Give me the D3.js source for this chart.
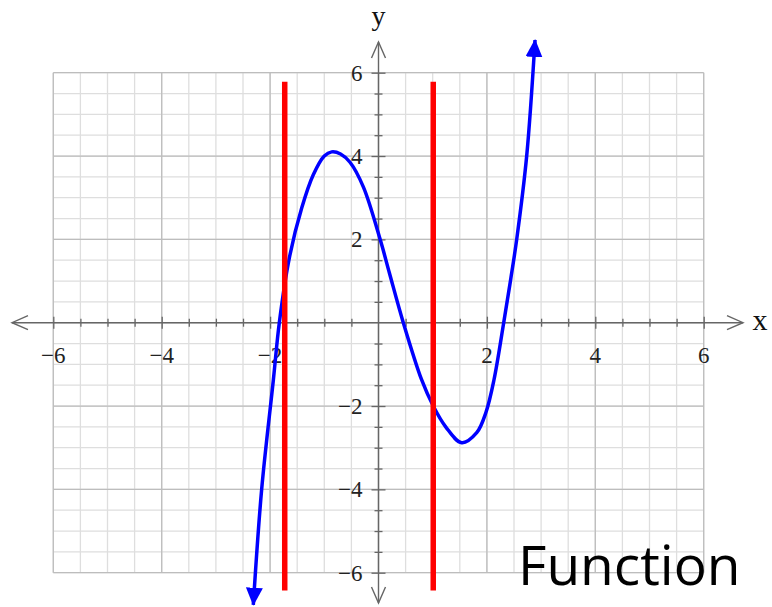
<!DOCTYPE html>
<html>
<head>
<meta charset="utf-8">
<script src="https://cdn.jsdelivr.net/npm/d3@7"></script>
<style>
  body { margin: 0; background: white; }
  svg { display: block; }
</style>
</head>
<body>
<div id="chart"></div>
<script>
// values
const curveX = [-2.31, -2.155, -1.94, -1.83, -1.646, -1.417, -1.203, -1.0, -0.864, -0.7, -0.526, -0.28, 0.03, 0.2, 0.458, 0.797, 1.01, 1.24, 1.535, 1.812, 1.983, 2.13, 2.31, 2.44, 2.55, 2.734, 2.888];
const curveY = [-6.77, -3.99, -1.375, 0, 1.55, 2.75, 3.55, 4.0, 4.1, 4.05, 3.85, 3.26, 2.0, 1.2, 0, -1.375, -2.0, -2.5, -2.88, -2.64, -2.15, -1.375, 0, 1.05, 2.0, 4.0, 6.785];
const redX = [-1.73, 1.01];
const redTop = 5.78;
const redBottom = -6.43;
const xTickLabels = [-6, -4, -2, 2, 4, 6];
const yTickLabels = [6, 4, 2, -2, -4, -6];

const wSvg = 772;
const hSvg = 607;

const x = d3.scaleLinear([-6, 6], [53.3, 703.7]);
const y = d3.scaleLinear([-6, 6], [572.7, 72.7]);

const minorSteps = d3.range(-6, 6.01, 0.5);
const majorSteps = d3.range(-6, 6.01, 2);

const svg = d3.select("#chart")
    .append("svg")
    .attr("width", wSvg)
    .attr("height", hSvg);

// grid
const grid = svg.append("g");
grid.selectAll(".vminor")
    .data(minorSteps)
    .enter()
    .append("line")
    .attr("x1", d => x(d)).attr("x2", d => x(d))
    .attr("y1", y(6)).attr("y2", y(-6))
    .attr("stroke", "#dedede")
    .attr("stroke-width", 1.3);
grid.selectAll(".hminor")
    .data(minorSteps)
    .enter()
    .append("line")
    .attr("y1", d => y(d)).attr("y2", d => y(d))
    .attr("x1", x(-6)).attr("x2", x(6))
    .attr("stroke", "#dedede")
    .attr("stroke-width", 1.3);
grid.selectAll(".vmajor")
    .data(majorSteps)
    .enter()
    .append("line")
    .attr("x1", d => x(d)).attr("x2", d => x(d))
    .attr("y1", y(6)).attr("y2", y(-6))
    .attr("stroke", "#bdbdbd")
    .attr("stroke-width", 1.3);
grid.selectAll(".hmajor")
    .data(majorSteps)
    .enter()
    .append("line")
    .attr("y1", d => y(d)).attr("y2", d => y(d))
    .attr("x1", x(-6)).attr("x2", x(6))
    .attr("stroke", "#bdbdbd")
    .attr("stroke-width", 1.3);

// axes
const axisColor = "#666";
const tickVals = minorSteps.filter(d => d !== 0);

let xAxis = d3.axisBottom(x).tickValues(tickVals).tickFormat("").tickSizeOuter(0);
let gx = svg.append("g")
    .attr("transform", `translate(0, ${y(0)})`)
    .call(xAxis);
gx.select(".domain").remove();
gx.selectAll(".tick line")
    .attr("stroke", axisColor)
    .attr("stroke-width", 1.3)
    .attr("y1", d => d % 2 === 0 ? -6 : -4)
    .attr("y2", d => d % 2 === 0 ? 6 : 4);

let yAxis = d3.axisLeft(y).tickValues(tickVals).tickFormat("").tickSizeOuter(0);
let gy = svg.append("g")
    .attr("transform", `translate(${x(0)}, 0)`)
    .call(yAxis);
gy.select(".domain").remove();
gy.selectAll(".tick line")
    .attr("stroke", axisColor)
    .attr("stroke-width", 1.3)
    .attr("x1", d => d % 2 === 0 ? 7 : 4)
    .attr("x2", d => d % 2 === 0 ? -7 : -4);

// axis lines with open arrows
const x0 = x(0), y0 = y(0);
svg.append("line")
    .attr("x1", 12).attr("x2", 743)
    .attr("y1", y0).attr("y2", y0)
    .attr("stroke", axisColor).attr("stroke-width", 1.4);
svg.append("line")
    .attr("x1", x0).attr("x2", x0)
    .attr("y1", 42).attr("y2", 603)
    .attr("stroke", axisColor).attr("stroke-width", 1.4);
const chevrons = [
    `M28,${y0 - 7} L12,${y0} L28,${y0 + 7}`,
    `M727,${y0 - 7} L743,${y0} L727,${y0 + 7}`,
    `M${x0 - 7},58 L${x0},42 L${x0 + 7},58`,
    `M${x0 - 7},587 L${x0},603 L${x0 + 7},587`
];
svg.selectAll(".chev")
    .data(chevrons)
    .enter()
    .append("path")
    .attr("d", d => d)
    .attr("fill", "none")
    .attr("stroke", axisColor)
    .attr("stroke-width", 1.4);

// tick labels
const fmt = d3.format("");
svg.append("g")
    .selectAll("text")
    .data(xTickLabels)
    .enter()
    .append("text")
    .attr("x", d => x(d))
    .attr("y", y0 + 40)
    .attr("text-anchor", "middle")
    .attr("font-family", "Liberation Serif, serif")
    .attr("font-size", 23)
    .attr("fill", "#222")
    .text(d => fmt(d));
svg.append("g")
    .selectAll("text")
    .data(yTickLabels)
    .enter()
    .append("text")
    .attr("x", x0 - 16)
    .attr("y", d => y(d) + 8)
    .attr("text-anchor", "end")
    .attr("font-family", "Liberation Serif, serif")
    .attr("font-size", 23)
    .attr("fill", "#222")
    .text(d => fmt(d));

svg.append("text")
    .attr("x", 760).attr("y", 330)
    .attr("text-anchor", "middle")
    .attr("font-family", "Liberation Serif, serif")
    .attr("font-size", 30)
    .attr("fill", "#111")
    .text("x");
svg.append("text")
    .attr("x", x0).attr("y", 25)
    .attr("text-anchor", "middle")
    .attr("font-family", "Liberation Serif, serif")
    .attr("font-size", 28)
    .attr("fill", "#111")
    .text("y");

// arrow marker for the curve
svg.append("defs")
    .append("marker")
    .attr("id", "blueArrow")
    .attr("markerUnits", "userSpaceOnUse")
    .attr("viewBox", "0 0 18 17")
    .attr("markerWidth", 18)
    .attr("markerHeight", 17)
    .attr("refX", 17)
    .attr("refY", 8.5)
    .attr("orient", "auto-start-reverse")
    .append("path")
    .attr("d", "M0,0 L18,8.5 L0,17 Z")
    .attr("fill", "#0000ff");

// curve
const pts = curveX.map((d, i) => [d, curveY[i]]);
const line = d3.line()
    .x(d => x(d[0]))
    .y(d => y(d[1]))
    .curve(d3.curveCatmullRom.alpha(0.5));
svg.append("path")
    .datum(pts)
    .attr("d", line)
    .attr("fill", "none")
    .attr("stroke", "#0000ff")
    .attr("stroke-width", 3.5)
    .attr("marker-start", "url(#blueArrow)")
    .attr("marker-end", "url(#blueArrow)");

// red vertical lines
svg.selectAll(".red")
    .data(redX)
    .enter()
    .append("line")
    .attr("x1", d => x(d)).attr("x2", d => x(d))
    .attr("y1", y(redTop)).attr("y2", y(redBottom))
    .attr("stroke", "#ff0000")
    .attr("stroke-width", 5.5);

svg.append("text")
    .attr("x", 518).attr("y", 585)
    .attr("font-family", "Open Sans, sans-serif")
    .attr("font-size", 55)
    .attr("fill", "#000")
    .text("Function");
</script>
</body>
</html>
